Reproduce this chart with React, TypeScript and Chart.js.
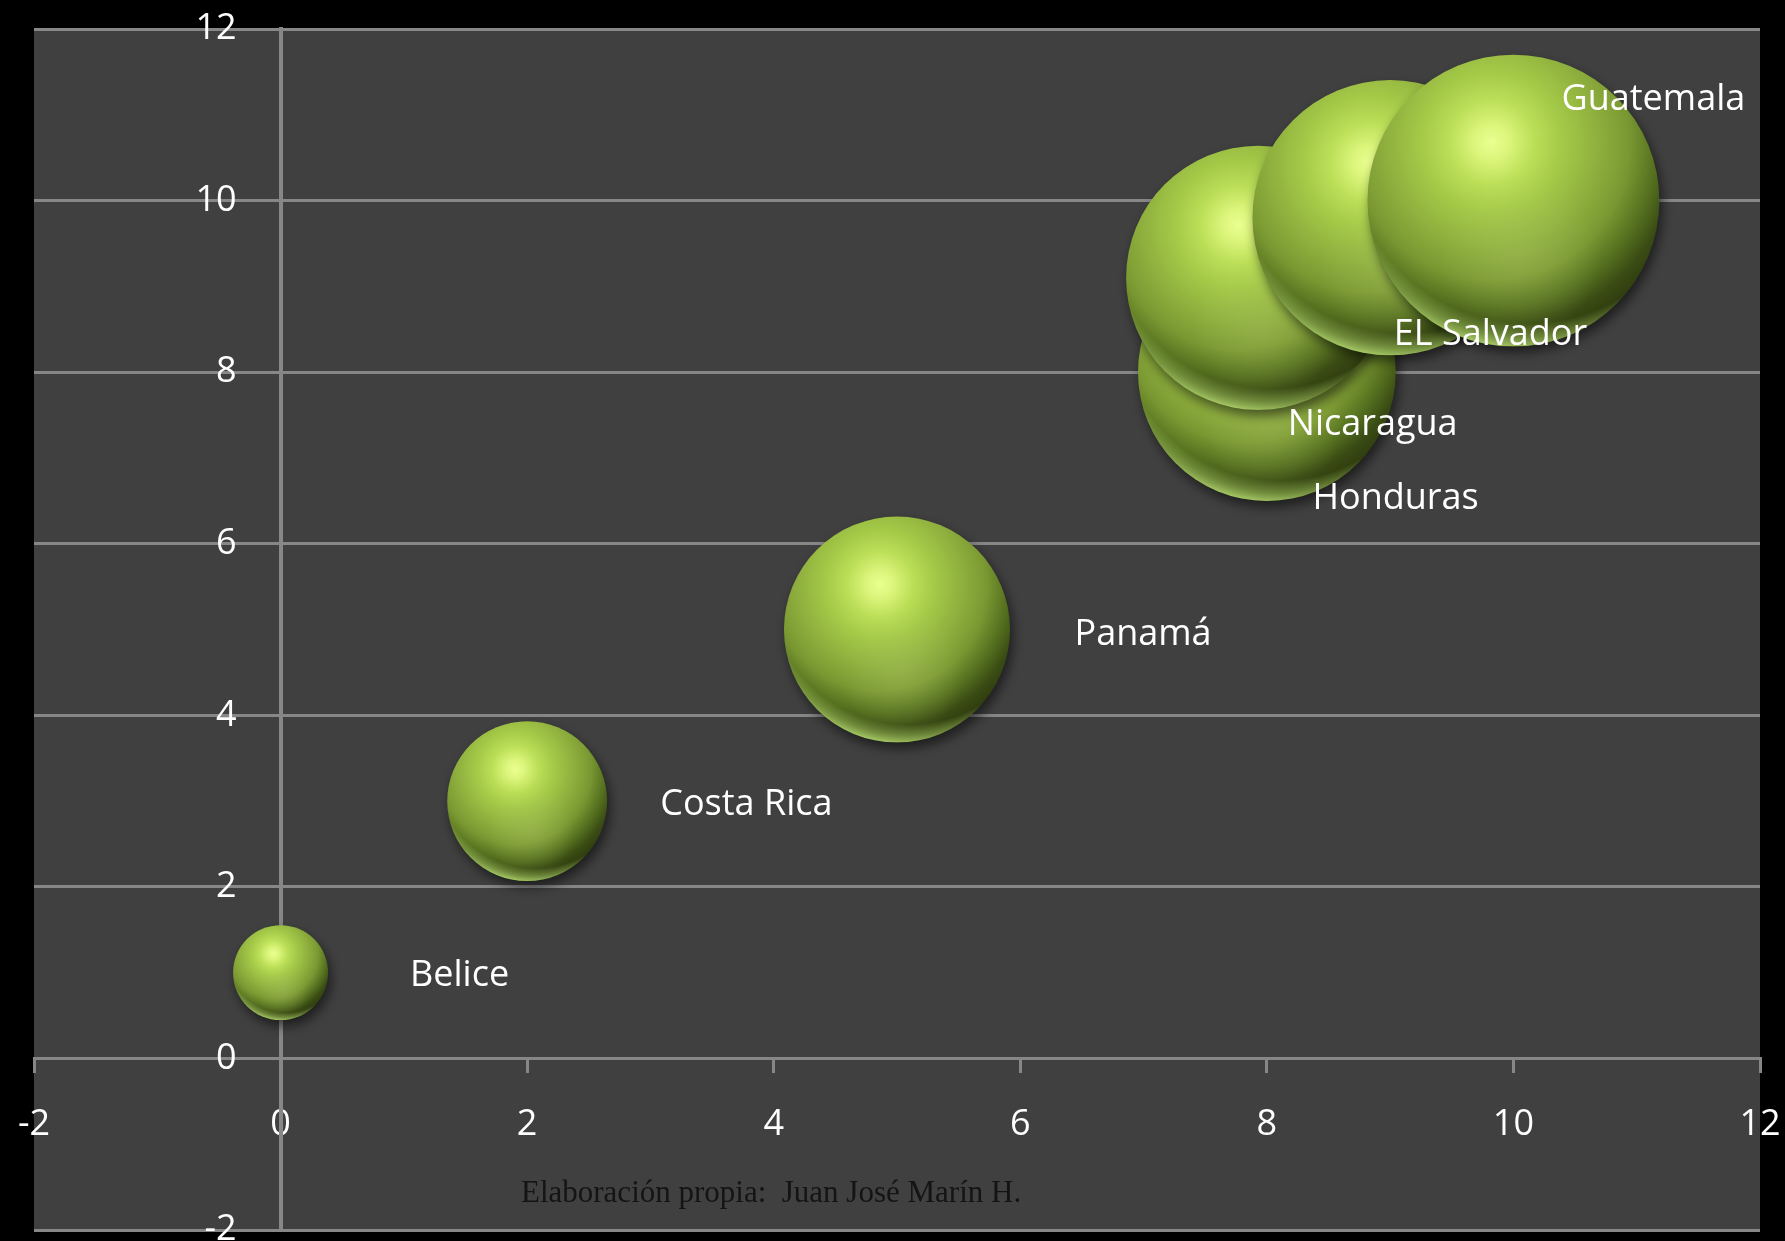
import React, { useEffect, useRef } from 'react';
import { Chart, registerables } from 'chart.js';

Chart.register(...registerables);

// ---------- data ----------
const countries = ['Belice', 'Costa Rica', 'Panamá', 'Honduras', 'Nicaragua', 'EL Salvador', 'Guatemala'];
const xValues = [0, 2, 5, 8, 7.93, 9, 10];
const yValues = [1, 3, 5, 8, 9.1, 9.8, 10];
const bubbleSizes = [1.06, 3, 6, 7.8, 8.2, 8.9, 10];

// axis range / ticks
const axisMin = -2;
const axisMax = 12;
const axisStep = 2;

// label placement (offset from bubble centre, in data units)
const labelDx = [1.05, 1.08, 1.44, 0.37, 0.24, 0.03, 0.39];
const labelDy = [-0.01, -0.01, -0.03, -1.45, -1.68, -1.33, 1.21];

const creditText = 'Elaboración propia:  Juan José Marín H.';
const creditPos = { x: 1.95, y: -1.676 };

// where the y tick labels are anchored (x value of their right edge)
const yLabelAnchorX = -0.357;

// ---------- style ----------
const FONT = '"Open Sans", "DejaVu Sans", sans-serif';
const FONT_SIZE = 36;
const GRID = '#878787';
const PLOT_BG = '#404040';
const MAX_R_FRACTION = 0.1216;

const maxSize = Math.max(...bubbleSizes);

function radiusFor(size: number, chart: any): number {
  const a = chart && chart.chartArea;
  const m = a ? Math.min(a.right - a.left, a.bottom - a.top) : 1200;
  return m * MAX_R_FRACTION * Math.sqrt(size / maxSize);
}

function drawSphere(ctx: CanvasRenderingContext2D, x: number, y: number, r: number) {
  ctx.save();
  ctx.beginPath();
  ctx.arc(x, y, r, 0, Math.PI * 2);
  ctx.closePath();
  ctx.shadowColor = 'rgba(0,0,0,0.55)';
  ctx.shadowBlur = 12;
  ctx.shadowOffsetX = 3;
  ctx.shadowOffsetY = 6;
  const hx = x - 0.15 * r;
  const hy = y - 0.4 * r;
  const g = ctx.createRadialGradient(hx, hy, 0, hx, hy, 1.45 * r);
  g.addColorStop(0, '#eaff90');
  g.addColorStop(0.08, '#dcf67c');
  g.addColorStop(0.2, '#bcdf58');
  g.addColorStop(0.33, '#a5ca48');
  g.addColorStop(0.5, '#8fb03e');
  g.addColorStop(0.65, '#7a9832');
  g.addColorStop(0.78, '#55701f');
  g.addColorStop(0.88, '#3a4c14');
  g.addColorStop(1, '#2a360c');
  ctx.fillStyle = g;
  ctx.fill();
  ctx.shadowColor = 'rgba(0,0,0,0)';
  ctx.shadowBlur = 0;
  ctx.shadowOffsetX = 0;
  ctx.shadowOffsetY = 0;
  ctx.clip();
  // soft secondary reflection
  const gx = x + 0.05 * r;
  const gy = y + 0.38 * r;
  const g3 = ctx.createRadialGradient(gx, gy, 0, gx, gy, 0.55 * r);
  g3.addColorStop(0, 'rgba(175,200,105,0.3)');
  g3.addColorStop(1, 'rgba(175,200,105,0)');
  ctx.fillStyle = g3;
  ctx.fillRect(x - r, y - r, 2 * r, 2 * r);
  // bottom rim light
  const qx = x + 0.1 * r;
  const qy = y - 0.4 * r;
  const g2 = ctx.createRadialGradient(qx, qy, 1.24 * r, qx, qy, 1.41 * r);
  g2.addColorStop(0, 'rgba(160,195,95,0)');
  g2.addColorStop(0.55, 'rgba(155,190,90,0.55)');
  g2.addColorStop(1, 'rgba(170,205,105,0.95)');
  ctx.fillStyle = g2;
  ctx.fillRect(x - r, y - r, 2 * r, 2 * r);
  ctx.restore();
}

const backgroundPlugin = {
  id: 'bgPlot',
  beforeDraw(chart: any) {
    const { ctx, chartArea: a, width, height } = chart;
    ctx.save();
    ctx.fillStyle = '#000000';
    ctx.fillRect(0, 0, width, height);
    ctx.fillStyle = PLOT_BG;
    ctx.fillRect(a.left, a.top, a.right - a.left, a.bottom - a.top);
    ctx.restore();
  },
};

const spherePlugin = {
  id: 'spheres',
  beforeDatasetsDraw(chart: any) {
    chart.getSortedVisibleDatasetMetas().forEach((meta: any) => {
      meta.data.forEach((el: any) => {
        if (el.__sphere) return;
        el.__sphere = true;
        el.draw = function (ctx: CanvasRenderingContext2D) {
          const r = this.options.radius;
          if (this.skip || !(r > 0.1)) return;
          drawSphere(ctx, this.x, this.y, r);
        };
      });
    });
  },
};

const labelPlugin = {
  id: 'countryLabels',
  afterDatasetsDraw(chart: any) {
    const { ctx } = chart;
    const sx = chart.scales.x;
    const sy = chart.scales.y;
    ctx.save();
    ctx.font = `${FONT_SIZE}px ${FONT}`;
    ctx.fillStyle = '#ffffff';
    ctx.textAlign = 'left';
    ctx.textBaseline = 'alphabetic';
    const capHalf = (FONT_SIZE * 0.714) / 2;
    countries.forEach((name, i) => {
      const px = sx.getPixelForValue(xValues[i] + labelDx[i]);
      const py = sy.getPixelForValue(yValues[i] + labelDy[i]) + capHalf;
      ctx.fillText(name, px, py);
    });
    ctx.font = '31px "Liberation Serif", "DejaVu Serif", serif';
    ctx.fillStyle = '#141414';
    ctx.fillText(creditText, sx.getPixelForValue(creditPos.x), sy.getPixelForValue(creditPos.y));
    ctx.restore();
  },
};

export default function App() {
  const ref = useRef<HTMLCanvasElement | null>(null);

  useEffect(() => {
    document.body.style.margin = '0';
    document.body.style.background = '#000';
    const canvas = ref.current;
    if (!canvas) return;
    const data = countries.map((c, i) => ({ x: xValues[i], y: yValues[i], size: bubbleSizes[i] }));
    const tickFont = { family: FONT, size: FONT_SIZE };
    const chart = new Chart(canvas, {
      type: 'bubble',
      data: {
        datasets: [
          {
            label: 'Centroamérica',
            data: data as any,
            backgroundColor: '#9bbb59',
            borderWidth: 0,
            radius: (c: any) => (c.raw ? radiusFor(c.raw.size, c.chart) : 0),
          } as any,
        ],
      },
      options: {
        responsive: false,
        animation: false,
        devicePixelRatio: 1,
        events: [],
        layout: { padding: { left: 34, top: 29, right: 25, bottom: 11 }, autoPadding: false },
        plugins: {
          legend: { display: false },
          tooltip: { enabled: false },
          title: { display: false },
        },
        scales: {
          x: {
            type: 'linear',
            position: { y: 0 } as any,
            min: axisMin,
            max: axisMax,
            ticks: {
              stepSize: axisStep,
              color: '#ffffff',
              font: { ...tickFont, lineHeight: 2.98 },
              padding: 0,
              maxRotation: 0,
              autoSkip: false,
              callback: (v: any) => String(v),
            },
            grid: { drawOnChartArea: false, drawTicks: true, tickLength: 13, color: GRID, lineWidth: 3 },
            border: { display: true, color: GRID, width: 3 },
          },
          y: {
            type: 'linear',
            position: { x: 0 } as any,
            min: axisMin,
            max: axisMax,
            ticks: { stepSize: axisStep, display: false },
            grid: { color: GRID, lineWidth: 3, drawTicks: false },
            border: { display: true, color: GRID, width: 4 },
          },
          yLabels: {
            type: 'linear',
            axis: 'y',
            position: { x: yLabelAnchorX } as any,
            min: axisMin,
            max: axisMax,
            ticks: {
              stepSize: axisStep,
              color: '#ffffff',
              font: { ...tickFont, lineHeight: 0.5 },
              padding: 0,
              autoSkip: false,
              callback: (v: any) => String(v),
            },
            grid: { display: false, drawTicks: false },
            border: { display: false },
          },
        },
      } as any,
      plugins: [backgroundPlugin, spherePlugin, labelPlugin],
    });
    return () => chart.destroy();
  }, []);

  return (
    <div style={{ width: 1785, height: 1241, background: '#000' }}>
      <canvas ref={ref} width={1785} height={1241} style={{ display: 'block', width: 1785, height: 1241 }} />
    </div>
  );
}
